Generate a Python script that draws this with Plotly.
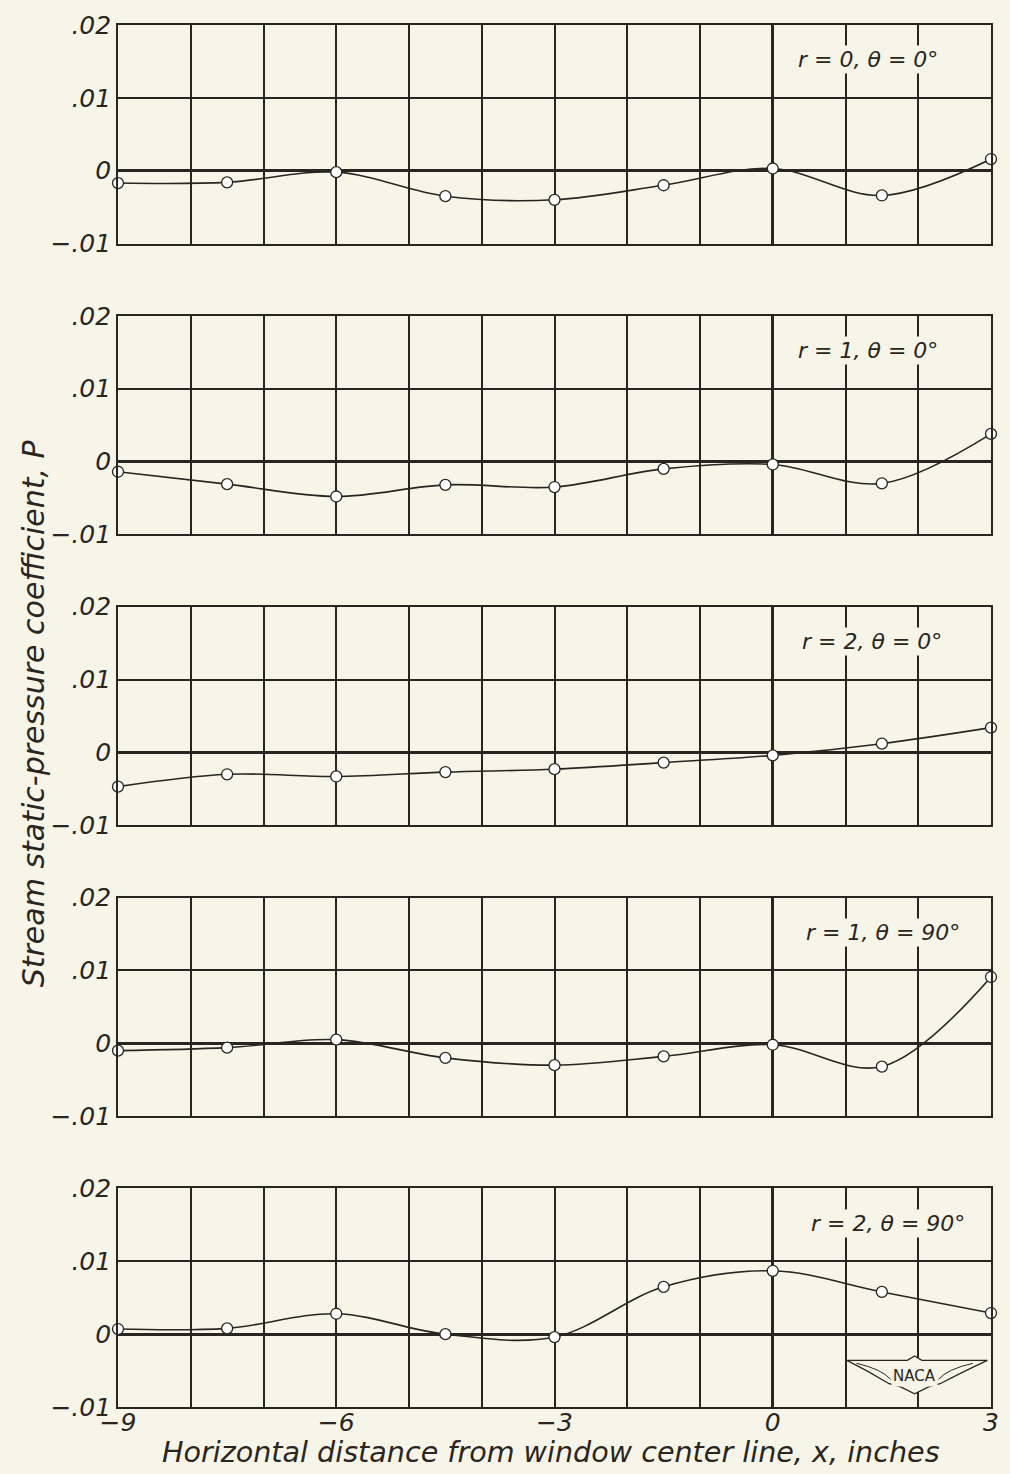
import plotly.graph_objects as go

# ---------------- data ----------------
x_positions = [-9, -7.5, -6, -4.5, -3, -1.5, 0, 1.5, 3]
p_r0_t0 = [-0.0017, -0.0016, -0.0002, -0.0035, -0.0040, -0.0020, 0.0003, -0.0034, 0.0016]
p_r1_t0 = [-0.0014, -0.0031, -0.0048, -0.0032, -0.0035, -0.0010, -0.0004, -0.0030, 0.0038]
p_r2_t0 = [-0.0047, -0.0030, -0.0033, -0.0027, -0.0023, -0.0014, -0.0004, 0.0012, 0.0034]
p_r1_t90 = [-0.0010, -0.0006, 0.0005, -0.0020, -0.0030, -0.0018, -0.0002, -0.0032, 0.0091]
p_r2_t90 = [0.0007, 0.0008, 0.0028, 0.0000, -0.0004, 0.0065, 0.0087, 0.0058, 0.0029]
series = [p_r0_t0, p_r1_t0, p_r2_t0, p_r1_t90, p_r2_t90]
panel_labels = ["r = 0, θ = 0°", "r = 1, θ = 0°", "r = 2, θ = 0°",
                "r = 1, θ = 90°", "r = 2, θ = 90°"]
label_x = [1.31, 1.31, 1.37, 1.52, 1.58]
label_y = 0.0152

x_tickvals = [-9, -8, -7, -6, -5, -4, -3, -2, -1, 0, 1, 2, 3]
x_ticktext = ["−9", "", "", "−6", "", "", "−3", "", "", "0", "", "", "3"]
y_tickvals = [-0.01, 0, 0.01, 0.02]
y_ticktext = ["−.01", "0", ".01", ".02"]
x_title = "Horizontal distance from window center line, x, inches"
y_title = "Stream static-pressure coefficient, P"

# ---------------- style ----------------
BG = "#f7f5e8"
INK = "#2a2520"
FONT = "DejaVu Sans"
W, H = 1010, 1474
ML, MT = 118, 22
MR = 11
MB = H - 1407
plot_w = W - ML - MR
plot_h = H - MT - MB
panel_h = 219
gap = (plot_h - 5 * panel_h) / 4


def px_to_xpaper(sx):
    return (sx - ML) / plot_w


def px_to_ypaper(sy):
    return (H - MB - sy) / plot_h


fig = go.Figure()
layout_axes = {}
n = len(series)
for i, ys in enumerate(series):
    k = i + 1
    xa = "x" if k == 1 else f"x{k}"
    ya = "y" if k == 1 else f"y{k}"
    top_px = i * (panel_h + gap)
    y1 = 1 - top_px / plot_h
    y0 = 1 - (top_px + panel_h) / plot_h
    fig.add_trace(go.Scatter(
        x=x_positions, y=ys, mode="lines+markers",
        line=dict(color=INK, width=1.6, shape="spline", smoothing=1.0),
        marker=dict(size=11, color="white", line=dict(color=INK, width=1.3)),
        xaxis=xa, yaxis=ya, cliponaxis=False, showlegend=False,
        hoverinfo="skip",
    ))
    last = (k == n)
    layout_axes["xaxis" if k == 1 else f"xaxis{k}"] = dict(
        domain=[0, 1], anchor=ya, range=[-9, 3],
        tickvals=x_tickvals, ticktext=x_ticktext,
        showticklabels=last, ticks="", ticklabelstandoff=-8,
        ticklabeloverflow="allow",
        tickfont=dict(family=FONT, size=25, color=INK, style="italic"),
        showgrid=True, gridcolor=INK, gridwidth=1.5,
        zeroline=True, zerolinecolor=INK, zerolinewidth=3.2,
        showline=True, linecolor=INK, linewidth=1.7, mirror=True,
        fixedrange=True,
    )
    layout_axes["yaxis" if k == 1 else f"yaxis{k}"] = dict(
        domain=[y0, y1], anchor=xa, range=[-0.01, 0.02],
        tickvals=y_tickvals, ticktext=y_ticktext, ticks="",
        ticklabeloverflow="allow",
        tickfont=dict(family=FONT, size=25, color=INK, style="italic"),
        showgrid=True, gridcolor=INK, gridwidth=1.5,
        zeroline=True, zerolinecolor=INK, zerolinewidth=3.2,
        showline=True, linecolor=INK, linewidth=1.7, mirror=True,
        fixedrange=True,
    )

annotations = []
for i, lab in enumerate(panel_labels):
    k = i + 1
    annotations.append(dict(
        text=lab, x=label_x[i], y=label_y,
        xref="x" if k == 1 else f"x{k}", yref="y" if k == 1 else f"y{k}",
        showarrow=False, bgcolor=BG,
        font=dict(family=FONT, size=22, color=INK, style="italic"),
    ))

annotations.append(dict(
    text=x_title, xref="paper", yref="paper",
    x=px_to_xpaper(555), y=px_to_ypaper(1452),
    xanchor="center", yanchor="middle", showarrow=False,
    font=dict(family=FONT, size=28.6, color=INK, style="italic"),
))
annotations.append(dict(
    text=y_title, xref="paper", yref="paper",
    x=px_to_xpaper(33), y=px_to_ypaper(712),
    xanchor="center", yanchor="middle", textangle=-90, showarrow=False,
    font=dict(family=FONT, size=30, color=INK, style="italic"),
))

# NACA wing emblem (decoration) in the last panel
annotations.append(dict(
    text="NACA", x=1.95, y=-0.0058, xref="x5", yref="y5", showarrow=False,
    bgcolor=BG, font=dict(family=FONT, size=15, color=INK),
))
shapes = [
    dict(type="path", xref="x5", yref="y5",
         path=("M 1.02,-0.0036 L 1.85,-0.0036 L 1.95,-0.0030 L 2.05,-0.0036 L 2.95,-0.0036 "
               "Q 2.65,-0.0050 2.30,-0.0068 L 2.15,-0.0072 L 1.95,-0.0082 L 1.75,-0.0072 "
               "L 1.60,-0.0068 Q 1.30,-0.0050 1.02,-0.0036 Z"),
         fillcolor=BG, line=dict(color=INK, width=1.2)),
    dict(type="path", xref="x5", yref="y5",
         path="M 1.15,-0.0040 Q 1.5,-0.0048 1.62,-0.0062 M 2.75,-0.0040 Q 2.4,-0.0048 2.28,-0.0062",
         line=dict(color=INK, width=1)),
]

fig.update_layout(
    width=W, height=H,
    margin=dict(l=ML, r=MR, t=MT, b=MB),
    paper_bgcolor=BG, plot_bgcolor=BG,
    annotations=annotations, shapes=shapes,
    **layout_axes,
)

fig.write_html(
    "out.html",
    config={"displayModeBar": False, "responsive": False},
    post_script="document.body.style.margin='0';document.body.style.overflow='hidden';"
                "document.body.style.background='" + BG + "';",
)
